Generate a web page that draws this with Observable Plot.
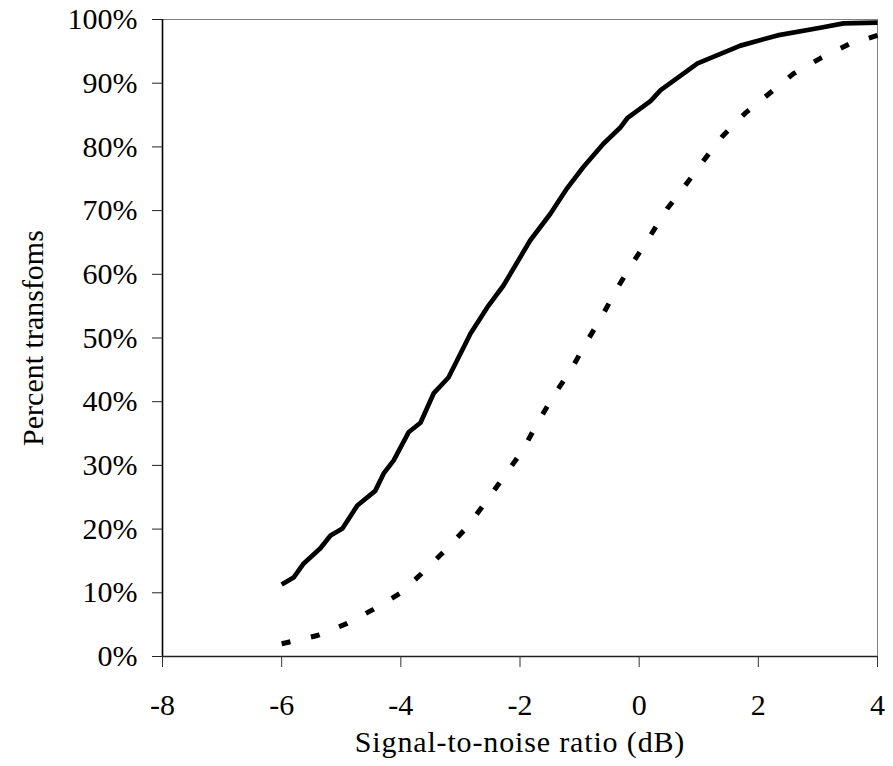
<!DOCTYPE html>
<html>
<head>
<meta charset="utf-8">
<script src="https://cdn.jsdelivr.net/npm/d3@7"></script>
<script src="https://cdn.jsdelivr.net/npm/@observablehq/plot@0.6"></script>
<style>
  html, body { margin: 0; padding: 0; background: #fff; }
  #chart svg { display: block; }
  .x-title text { letter-spacing: 0.85px; }
</style>
</head>
<body>
<div id="chart"></div>
<script>
// Solid curve: percent transforms vs signal-to-noise ratio
const snrSolid = [-6.0, -5.8, -5.63, -5.35, -5.18, -4.98, -4.73, -4.43, -4.29, -4.12, -3.87, -3.67, -3.45, -3.2, -2.83, -2.55, -2.28, -1.83, -1.49, -1.21, -0.94, -0.6, -0.32, -0.2, 0.19, 0.36, 0.98, 1.7, 2.32, 3.04, 3.43, 4.0];
const pctSolid = [11.3, 12.4, 14.6, 17.0, 19.0, 20.1, 23.7, 26.0, 28.7, 30.8, 35.2, 36.7, 41.3, 43.8, 50.7, 54.8, 58.2, 65.3, 69.5, 73.5, 76.8, 80.5, 83.0, 84.5, 87.2, 88.9, 93.1, 95.9, 97.5, 98.7, 99.4, 99.5];

// Dashed curve
const snrDashed = [-6.0, -5.4, -4.9, -4.46, -4.0, -3.62, -3.22, -2.88, -2.58, -2.28, -1.96, -1.71, -1.44, -1.15, -0.9, -0.62, -0.37, -0.1, 0.19, 0.47, 0.77, 1.11, 1.41, 1.78, 2.2, 2.59, 3.04, 3.54, 4.0];
const pctDashed = [2.0, 3.3, 5.2, 7.4, 10.0, 13.3, 17.0, 20.4, 24.2, 28.1, 32.3, 36.6, 40.9, 44.9, 49.1, 53.5, 57.8, 61.9, 66.1, 70.3, 73.9, 78.2, 81.8, 85.3, 88.5, 91.5, 93.9, 96.2, 97.5];

// Axis ticks and titles
const xTicks = [-8, -6, -4, -2, 0, 2, 4];
const yTicks = [0, 10, 20, 30, 40, 50, 60, 70, 80, 90, 100];
const xTitle = "Signal-to-noise ratio (dB)";
const yTitle = "Percent transfoms";

const solid = snrSolid.map((x, i) => ({x, y: pctSolid[i]}));
const dashed = snrDashed.map((x, i) => ({x, y: pctDashed[i]}));

const chart = Plot.plot({
  width: 893,
  height: 766,
  marginLeft: 162,
  marginRight: 16,
  marginTop: 19,
  marginBottom: 110,
  style: {fontFamily: "'Liberation Serif', 'Times New Roman', serif", fontSize: "30px", background: "#fff", color: "#000"},
  x: {domain: [-8, 4]},
  y: {domain: [0, 100]},
  marks: [
    // plot-area border: gray top and right, black left and bottom axes
    Plot.ruleY([100], {stroke: "#808080", strokeWidth: 1}),
    Plot.ruleX([4], {stroke: "#808080", strokeWidth: 1}),
    Plot.ruleX([-8], {stroke: "#000", strokeWidth: 1.6}),
    Plot.ruleY([0], {stroke: "#222", strokeWidth: 1.4}),
    Plot.axisY({ticks: yTicks, tickFormat: d => d + "%", tickSize: 10, tickPadding: 15, label: null, stroke: "#222"}),
    Plot.axisX({ticks: xTicks, tickFormat: d => String(d), tickSize: 11, tickPadding: 26, label: null, stroke: "#333"}),
    Plot.line(dashed, {x: "x", y: "y", stroke: "#000", strokeWidth: 5, strokeDasharray: "9,21", strokeLinecap: "butt"}),
    Plot.line(solid, {x: "x", y: "y", stroke: "#000", strokeWidth: 4.7, strokeLinejoin: "round", strokeLinecap: "butt"}),
    Plot.text([xTitle], {frameAnchor: "bottom", textAnchor: "middle", dy: 86, lineAnchor: "middle", fill: "#000", className: "x-title"}),
    Plot.text([yTitle], {frameAnchor: "left", textAnchor: "middle", dx: -129, rotate: -90, lineAnchor: "middle", fill: "#000"})
  ]
});

document.getElementById("chart").appendChild(chart);
</script>
</body>
</html>
